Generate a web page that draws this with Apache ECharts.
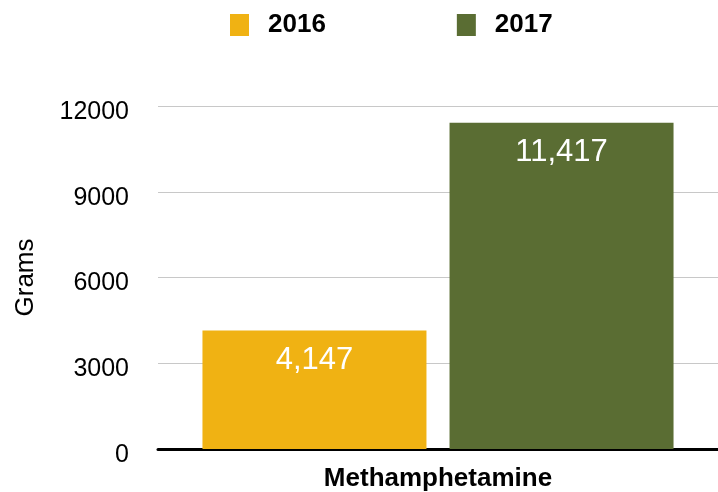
<!DOCTYPE html>
<html>
<head>
<meta charset="utf-8">
<script src="https://cdn.jsdelivr.net/npm/echarts@6/dist/echarts.min.js"></script>
<style>
html,body{margin:0;padding:0;background:#fff;}
#chart{width:718px;height:492px;}
</style>
</head>
<body>
<div id="chart"></div>
<script>
const categories = ['Methamphetamine'];
const seriesNames = ['2016', '2017'];
const values2016 = [4147];
const values2017 = [11417];
const yTicks = [0, 3000, 6000, 9000, 12000];
const colors = ['#F0B213', '#5A6D33'];

const FONT = '"Liberation Sans", Arial, Helvetica, sans-serif';
const chart = echarts.init(document.getElementById('chart'));

function fmt(p) { return Number(p.value).toLocaleString('en-US'); }

const seriesData = [values2016, values2017];
chart.setOption({
  animation: false,
  textStyle: { fontFamily: FONT },
  legend: {
    left: 225, top: 7,
    itemWidth: 19, itemHeight: 22, itemGap: 131,
    icon: 'rect',
    data: seriesNames,
    textStyle: { fontFamily: FONT, fontSize: 26, fontWeight: 'bold', color: '#000', padding: [0, 0, 0, 14] }
  },
  grid: { left: 158, right: 0, top: 106, bottom: 42 },
  xAxis: {
    type: 'category',
    data: categories,
    axisLine: { lineStyle: { color: '#000', width: 3 } },
    axisTick: { show: false },
    axisLabel: { fontFamily: FONT, fontSize: 26, fontWeight: 'bold', color: '#000', margin: 17 }
  },
  yAxis: {
    type: 'value',
    min: yTicks[0], max: yTicks[yTicks.length - 1], interval: yTicks[1] - yTicks[0],
    name: 'Grams',
    nameLocation: 'middle',
    nameRotate: 90,
    nameGap: 119,
    nameTextStyle: { fontFamily: FONT, fontSize: 26, color: '#000' },
    axisLine: { show: false },
    axisTick: { show: false },
    splitLine: { lineStyle: { color: '#c8c8c8', width: 1 } },
    axisLabel: {
      fontFamily: FONT, fontSize: 25, color: '#000', margin: 29,
      verticalAlign: 'top', lineHeight: 12,
      formatter: function (v) { return String(v); }
    }
  },
  series: seriesNames.map((n, i) => ({
    name: n,
    type: 'bar',
    data: seriesData[i],
    barWidth: 224,
    barGap: '10.3%',
    itemStyle: { color: colors[i] },
    label: {
      show: true, position: 'insideTop', distance: 14,
      color: '#fff', fontFamily: FONT, fontSize: 31,
      formatter: fmt
    }
  }))
});
</script>
</body>
</html>
